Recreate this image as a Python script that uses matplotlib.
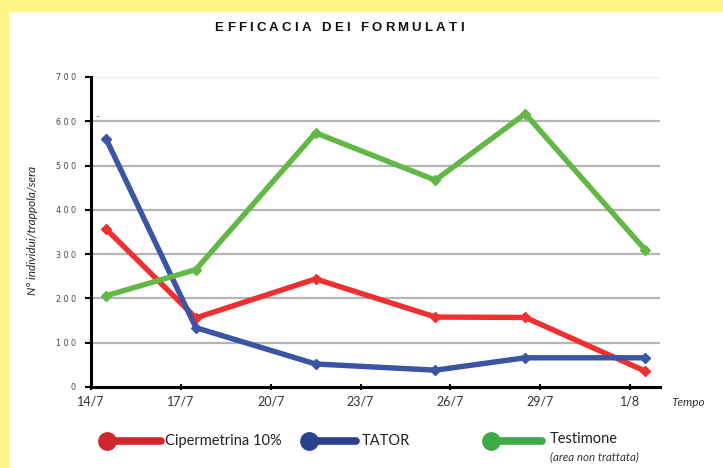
import matplotlib
matplotlib.use('Agg')
import matplotlib.pyplot as plt
import matplotlib.transforms as mtransforms
from matplotlib.lines import Line2D
from matplotlib.patches import Rectangle

# giorni dal 14/7 (posizione dei rilievi)
giorni = [0.5, 3.5, 7.5, 11.5, 14.5, 18.5]
cipermetrina = [357, 156, 244, 158, 157, 36]
tator = [561, 134, 52, 38, 66, 66]
testimone = [206, 265, 574, 467, 617, 310]

x_ticks = [0, 3, 6, 9, 12, 15, 18]
x_labels = ['14/7', '17/7', '20/7', '23/7', '26/7', '29/7', '1/8']
y_ticks = [0, 100, 200, 300, 400, 500, 600, 700]

serie = [
    ('Cipermetrina 10%', cipermetrina, '#ee3030', '#d0262d'),
    ('TATOR', tator, '#3a55a4', '#2a4190'),
    ('Testimone', testimone, '#62b846', '#3daa48'),
]

W, H = 723, 468
fig = plt.figure(figsize=(W / 100, H / 100), dpi=100)
fig.patch.set_facecolor('white')


def px(x, y):
    # pixel (dall'alto a sinistra) -> coordinate figura
    return x / W, 1 - y / H


# cornice gialla
fig.patches.append(Rectangle((0, 0), 8 / W, 1, transform=fig.transFigure,
                             color='#fff587', zorder=0))
fig.patches.append(Rectangle((0, 1 - 11 / H), 1, 11 / H, transform=fig.transFigure,
                             color='#fff587', zorder=0))

l, t = px(91, 77)
r, b = px(660, 387)
ax = fig.add_axes([l, b, r - l, t - b])

for nome, vals, col, _ in serie:
    ax.plot(giorni, vals, color=col, lw=3.9, marker='D', ms=5,
            solid_joinstyle='round', zorder=3)

ax.set_xlim(0, 19)
ax.set_ylim(0, 700)
ax.set_yticks(y_ticks)
ax.set_yticklabels([' '.join(str(v)) for v in y_ticks], fontsize=5.8,
                   color='#444444', family='DejaVu Sans')
ax.set_xticks(x_ticks)
ax.set_xticklabels(x_labels, fontsize=9, color='#333333', family='Lato')
offset = mtransforms.ScaledTranslation(-5 / 100, 0, fig.dpi_scale_trans)
for lab in ax.get_xticklabels():
    lab.set_transform(lab.get_transform() + offset)

ax.tick_params(axis='y', length=4, width=1.5, pad=7, direction='out')
ax.tick_params(axis='x', length=4, width=1.5, pad=4, direction='inout')

for s in ['top', 'right']:
    ax.spines[s].set_visible(False)
for s in ['left', 'bottom']:
    ax.spines[s].set_linewidth(2.2)
    ax.spines[s].set_color('black')

ax.yaxis.grid(True, color='#b5b5b5', lw=1.6)
ax.set_axisbelow(True)
gl = ax.get_ygridlines()
gl[0].set_visible(False)
gl[-1].set_color('#ececec')
gl[-1].set_linewidth(1)

ax.text(0.23, 612, '-', fontsize=5, color='black', ha='center', va='center')

fig.text(*px(32, 230), 'N° individui/trappola/sera', fontsize=8.5, style='italic',
         family='Lato', color='#222222', rotation=90, ha='center', va='center')
fig.text(*px(671, 402), 'Tempo', fontsize=8.5, style='italic', family='Lato',
         color='#333333', ha='left', va='center')

# titolo con spaziatura tra le lettere
titolo = 'EFFICACIA DEI FORMULATI'
renderer = fig.canvas.get_renderer()
larghezze = []
for ch in titolo:
    tt = fig.text(0, 0, ch, fontsize=9.5, weight='bold', family='Liberation Sans')
    larghezze.append(tt.get_window_extent(renderer).width if ch != ' ' else 4)
    tt.remove()
spazio = 3.2
totale = sum(larghezze) + spazio * (len(titolo) - 1)
x0 = 339 - totale / 2
for ch, w in zip(titolo, larghezze):
    if ch != ' ':
        fig.text(*px(x0, 28), ch, fontsize=9.5, weight='bold',
                 family='Liberation Sans', color='#111111', ha='left', va='center')
    x0 += w + spazio

# legenda
leg = [(107, 161, 165), (309, 356, 362), (491, 542, 550)]
for (nome, _, _, col), (xc, xe, xt) in zip(serie, leg):
    x1, y1 = px(xc, 441)
    x2, _ = px(xe, 441)
    fig.add_artist(Line2D([x1, x2], [y1, y1], transform=fig.transFigure,
                          color=col, lw=5.5, solid_capstyle='round',
                          marker='o', ms=12.5, markevery=[0]))
    ty = 439 if nome == 'Testimone' else 441
    fig.text(*px(xt, ty), nome, fontsize=10.5, family='Lato', color='#222222',
             ha='left', va='center')
fig.text(*px(550, 457), '(area non trattata)', fontsize=8.3, style='italic',
         family='Lato', color='#333333', ha='left', va='center')

fig.savefig('out.png', dpi=100)
